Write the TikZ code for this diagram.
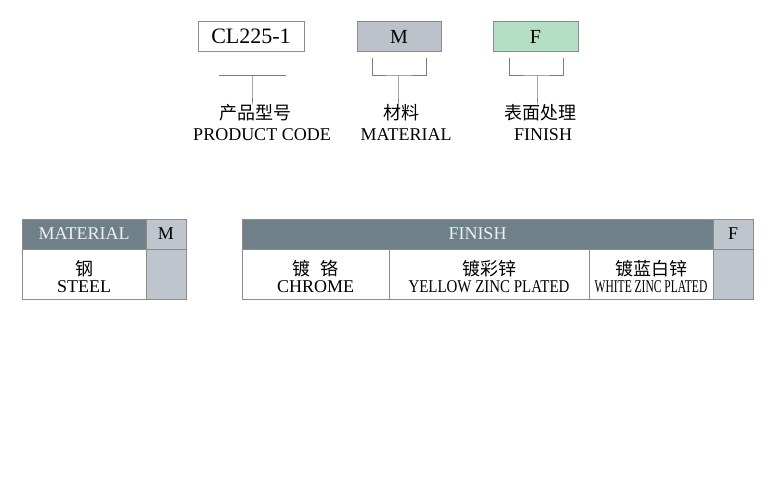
\documentclass[tikz,border=0pt]{standalone}
\usepackage{graphicx}
\usepackage{fontspec}
\setmainfont{Liberation Serif}
\newfontfamily\cjk{Noto Sans CJK SC}
\definecolor{framegray}{HTML}{8C8C8C}
\definecolor{linegray}{HTML}{7A7A7A}
\definecolor{hdrslate}{HTML}{6F8089}
\definecolor{hdrtext}{HTML}{EEF1F3}
\definecolor{keygray}{HTML}{BEC5CC}
\definecolor{mgray}{HTML}{BCC2C9}
\definecolor{fgreen}{HTML}{B4DFC5}
\newcommand\topstrut{\rule{0pt}{21pt}}

\begin{document}
\begin{tikzpicture}[x=1pt, y=-1pt,
		cell/.style={draw=framegray, line width=0.8pt, inner sep=0pt, align=center, font=\fontsize{18}{17}\selectfont},
		hdr/.style={cell, fill=hdrslate, text=hdrtext, minimum height=30pt},
		keycell/.style={cell, fill=keygray, minimum width=40pt},
		bodycell/.style={cell, minimum height=50pt},
		lbl/.style={inner sep=0pt, font=\fontsize{18}{18}\selectfont},
		tick/.style={draw=linegray, line width=0.8pt}]
			\useasboundingbox (0,0) rectangle (778,500);
			
			% code boxes
			\node[cell, minimum width=106pt, minimum height=30pt, font=\fontsize{22}{22}\selectfont] (code) at (251,36.5) {CL225-1};
			\node[cell, fill=mgray, minimum width=84pt, minimum height=30pt, font=\fontsize{20}{20}\selectfont] (mbox) at (399,36.5) {M};
			\node[cell, fill=fgreen, minimum width=85pt, minimum height=30pt, font=\fontsize{20}{20}\selectfont] (fbox) at (535.5,36.5) {F};
			
			\node[lbl] (codecn) at (255,113) {\cjk 产品型号};
			\node[lbl] (codeen) at (262,135) {PRODUCT CODE};
			\node[lbl] (matcn) at (401,113) {\cjk 材料};
			\node[lbl] (maten) at (406,135) {MATERIAL};
			\node[lbl] (fincn) at (540,113) {\cjk 表面处理};
			\node[lbl] (finen) at (543,135) {FINISH};
			
			% brackets
			\coordinate (c1) at (219,75);
			\coordinate (c2) at (286,75);
			\coordinate (cs) at (252,75);
			\coordinate (m1) at (372,58);
			\coordinate (m2) at (426,58);
			\coordinate (ms) at (398,75);
			\coordinate (f1) at (509,58);
			\coordinate (f2) at (563,58);
			\coordinate (fs) at (537,75);
			\draw[tick] (c1) -- (c2);
			\draw[tick] (m1) |- (ms) -| (m2);
			\draw[tick] (f1) |- (fs) -| (f2);
			\foreach \from/\to in {cs/codecn,ms/matcn,fs/fincn}
			\draw[tick] (\from) -- (\from |- \to.north) -- ++(0,-6);
			
			% material table
			\node[hdr, minimum width=124pt] (mathdr) at (84,234) {MATERIAL};
			\node[keycell, minimum height=30pt] (matkey) at (166,234) {M};
			\node[bodycell, minimum width=124pt] (steel) at (84,274) {\topstrut{\cjk 钢}\\STEEL};
			\node[keycell, minimum height=50pt] (matval) at (166,274) {};
			
			% finish table
			\node[hdr, minimum width=471pt] (finhdr) at (477.5,234) {FINISH};
			\node[keycell, minimum height=30pt] (finkey) at (733,234) {F};
			\node[bodycell, minimum width=147pt] (chrome) at (315.5,274) {\topstrut{\cjk 镀\hspace{0.6em}铬}\\CHROME};
			\node[bodycell, minimum width=200pt] (yellow) at (489,274) {\topstrut{\cjk 镀彩锌}\\\scalebox{0.83}[1]{YELLOW ZINC PLATED}};
			\node[bodycell, minimum width=124pt] (white) at (651,274) {\topstrut{\cjk 镀蓝白锌}\\\scalebox{0.64}[1]{WHITE ZINC PLATED}};
			\node[keycell, minimum height=50pt] (finval) at (733,274) {};
		\end{tikzpicture}
\end{document}
